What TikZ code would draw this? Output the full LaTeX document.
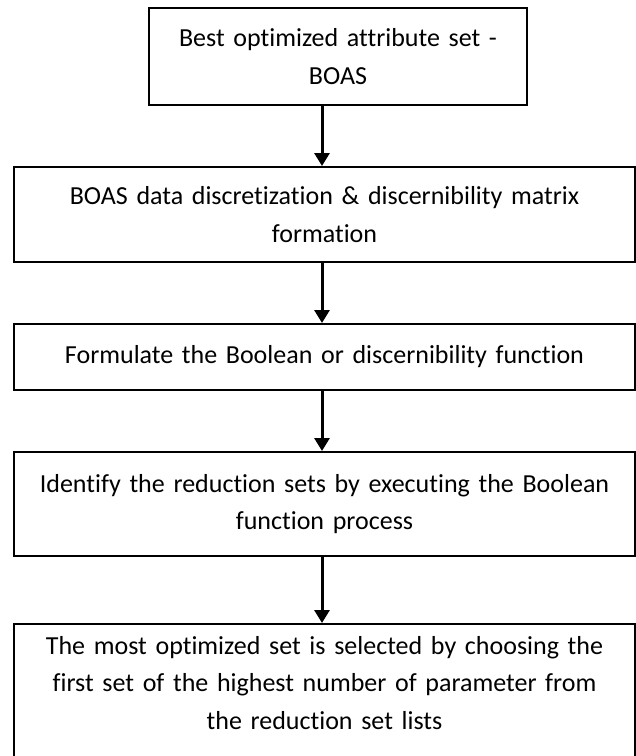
\documentclass[tikz,border=0pt]{standalone}
\usepackage{fontspec}
\setmainfont{Carlito}[Ligatures=NoCommon]
\usetikzlibrary{arrows.meta,positioning}

\begin{document}
\begin{tikzpicture}[x=1pt,y=-1pt,
  node distance=60pt,
  b/.style={draw,line width=2pt,align=center,inner sep=0pt,minimum width=621pt,text width=610pt,font=\fontsize{26}{37.5}\selectfont},
  ar/.style={-{Triangle[length=13pt,width=15pt]},line width=3pt}]
\useasboundingbox (0,0) rectangle (636,756);
\coordinate (ax) at (322,0);
\node[b,minimum height=95pt] (disc) at (324.5,214.5) {BOAS data discretization \& discernibility matrix\\formation};
\node[b,above=of disc,xshift=13.5pt,minimum width=378pt,text width=370pt,minimum height=97pt] (boas) {Best optimized attribute set -\\BOAS};
\node[b,below=of disc,minimum height=66pt] (func) {Formulate the Boolean or discernibility function};
\node[b,below=of func,minimum height=104pt] (red) {Identify the reduction sets by executing the Boolean\\function process};
\node[b,below=66pt of red,inner ysep=13pt,text height=17pt,text depth=120pt] (sel) {The most optimized set is selected by choosing the\\first set of the highest number of parameter from\\the reduction set lists};
\draw[ar] (boas.south -| ax) -- (disc.north -| ax);
\draw[ar] (disc.south -| ax) -- (func.north -| ax);
\draw[ar] (func.south -| ax) -- (red.north -| ax);
\draw[ar] (red.south -| ax) -- (sel.north -| ax);
\end{tikzpicture}
\end{document}
